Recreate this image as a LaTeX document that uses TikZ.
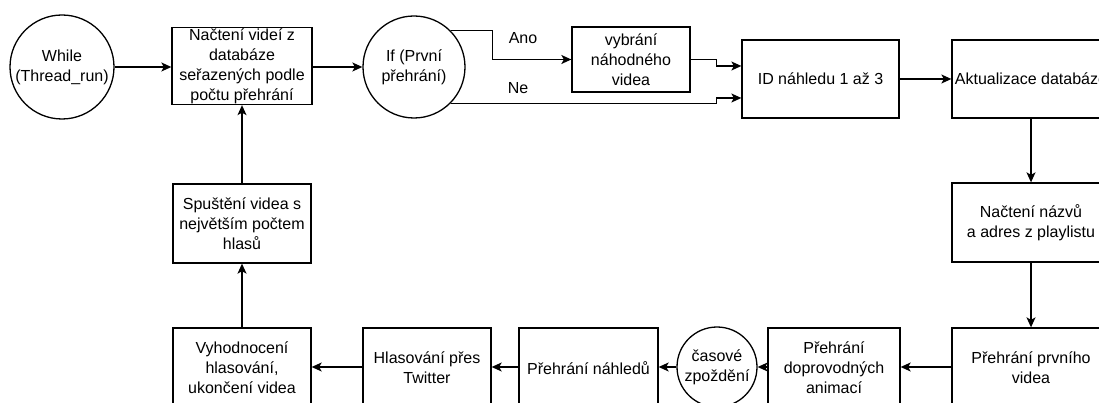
\documentclass[tikz,border=0pt]{standalone}
\usepackage{fontspec}
\setmainfont{Liberation Sans}
\usetikzlibrary{arrows.meta}
\begin{document}
\begin{tikzpicture}[x=1pt,y=-1pt,
  every node/.style={font=\fontsize{16}{20}\selectfont, align=center, inner sep=0pt},
  box/.style={draw, line width=1.3pt, rectangle},
  round/.style={draw, line width=1.3pt, circle},
  arr/.style={line width=1.3pt, -{Stealth[length=10pt,width=9pt,inset=2.5pt]}},
  lbl/.style={}
]
\useasboundingbox (0,0) rectangle (1099,403);
\clip (0,0) rectangle (1099,403);

% top row
\node[round, minimum size=104pt] (while) at (62,67) {While\\(Thread\_run)};
\node[box, minimum width=140pt, minimum height=77pt] (load) at (242,66) {Načtení videí z\\databáze\\seřazených podle\\počtu přehrání};
\node[round, minimum size=102pt] (ifc) at (414,67) {If (První\\přehrání)};
\node[box, minimum width=118pt, minimum height=65pt] (rand) at (631,59.5) {vybrání\\náhodného\\videa};
\node[box, minimum width=157pt, minimum height=78pt] (prev) at (820.5,79) {ID náhledu 1 až 3};
\node[box, minimum width=158pt, minimum height=78pt] (upd) at (1031,79) {Aktualizace databáze};

% right column
\node[box, minimum width=158pt, minimum height=79pt] (names) at (1031,222.5) {Načtení názvů\\a adres z playlistu};
\node[box, minimum width=158pt, minimum height=80pt] (first) at (1031,368) {Přehrání prvního\\videa};

% bottom row
\node[box, minimum width=132pt, minimum height=80pt] (anim) at (834,368) {Přehrání\\doprovodných\\animací};
\node[round, minimum size=80pt] (delay) at (717,367) {časové\\zpoždění};
\node[box, minimum width=139pt, minimum height=80pt] (thumbs) at (588.5,368) {Přehrání náhledů};
\node[box, minimum width=128pt, minimum height=80pt] (vote) at (427,368) {Hlasování přes\\Twitter};
\node[box, minimum width=138pt, minimum height=80pt] (eval) at (242,368) {Vyhodnocení\\hlasování,\\ukončení videa};

% left column
\node[box, minimum width=138pt, minimum height=79pt] (start) at (242,223.5) {Spuštění videa s\\největším počtem\\hlasů};

% branch labels
\node[lbl] (yes) at (523,38) {Ano};
\node[lbl] (no) at (518,88) {Ne};

% connectors
\draw[arr] (while.east) -- (while.east -| load.west);
\draw[arr] (load.east |- ifc.west) -- (ifc.west);
\draw[arr] (ifc.45) -| ([xshift=-79pt]rand.west) -- (rand.west);
\draw[arr] (ifc.-45) -| ([xshift=-25pt,yshift=-19pt]prev.west) -- ([yshift=-19pt]prev.west);
\draw[arr] (rand.east) -| ([xshift=-25pt,yshift=13pt]prev.west) -- ([yshift=13pt]prev.west);
\draw[arr] (prev.east) -- (upd.west);
\draw[arr] (upd.south) -- (names.north);
\draw[arr] (names.south) -- (first.north);
\draw[arr] (first.west |- delay.east) -- (anim.east |- delay.east);
\draw[arr] (anim.west |- delay.east) -- (delay.east);
\draw[arr] (delay.west) -- (delay.west -| thumbs.east);
\draw[arr] (thumbs.west |- delay.west) -- (vote.east |- delay.west);
\draw[arr] (vote.west |- delay.west) -- (eval.east |- delay.west);
\draw[arr] (eval.north) -- (start.south);
\draw[arr] (start.north) -- (load.south);
\end{tikzpicture}
\end{document}
